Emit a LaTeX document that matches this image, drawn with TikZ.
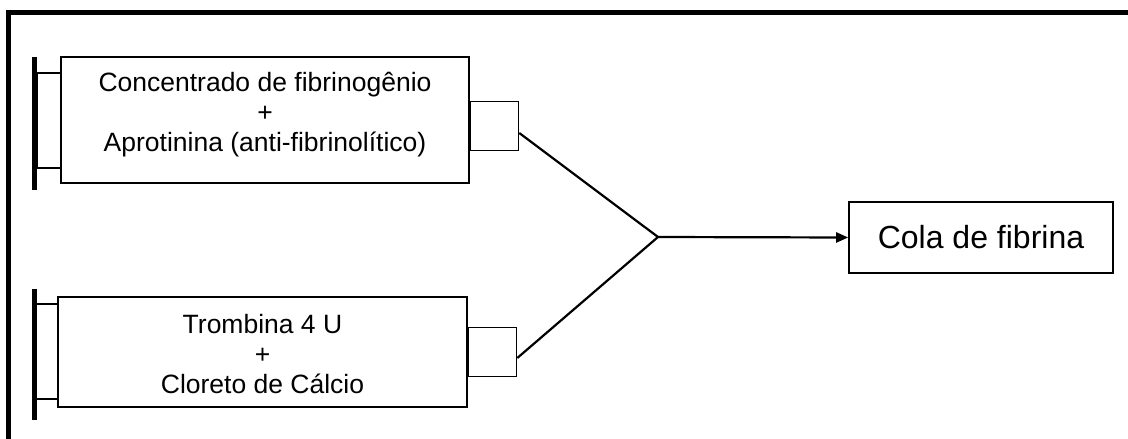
\documentclass[tikz,border=0pt]{standalone}
\usepackage{fontspec}
\setmainfont{Liberation Sans}
\usetikzlibrary{calc,arrows.meta}
\begin{document}
\begin{tikzpicture}[x=1pt,y=-1pt,
  barrel/.style={draw,line width=1.6pt,fill=white,inner sep=0pt},
  label/.style={inner sep=0pt,align=center,font=\fontsize{26.5}{30}\selectfont},
  nozzle/.style={draw,line width=1.6pt,inner sep=0pt,minimum width=48,minimum height=49},
  rod/.style={draw,line width=1.6pt,inner sep=0pt,minimum width=24},
  bar/.style={fill=black,inner sep=0pt,minimum width=5},
  conn/.style={line width=2.2pt},
  result/.style={draw,line width=1.6pt,inner sep=0pt,minimum width=264,minimum height=71,
    font=\fontsize{32}{38}\selectfont}]
\useasboundingbox (0,0) rectangle (1128,439);
% frame
\draw[line width=5pt] (8.5,439) -- (8.5,12.5) -- (1128,12.5);
% top syringe
\node[rod,minimum height=95] (rod1) at (49,120.5) {};
\node[bar,minimum height=133] (bar1) at (34.5,123.5) {};
\node[barrel,minimum width=408,minimum height=126] (b1) at (265,120) {};
\node[label] (t1) at (265,115)
  {Concentrado de fibrinogênio\\+\\Aprotinina (anti-fibrinolítico)};
\node[nozzle] (n1) at (494.5,126) {};
% bottom syringe
\node[rod,minimum height=95] (rod2) at (47.5,351.5) {};
\node[bar,minimum height=131] (bar2) at (34.5,354.5) {};
\node[barrel,minimum width=409,minimum height=110] (b2) at (262.5,352) {};
\node[label] (t2) at (262.5,354)
  {Trombina 4 U\\+\\Cloreto de Cálcio};
\node[nozzle] (n2) at (492.5,352) {};
% result
\node[result] (cola) at (981,237.5) {Cola de fibrina};
\coordinate (j) at (658,237);
\draw[conn] ([yshift=-7]n1.east) -- (j);
\draw[conn] ([yshift=-6]n2.east) -- (j);
\draw[conn,-{Triangle[length=12pt,width=10pt]}] (j) -- (cola.west);
\end{tikzpicture}
\end{document}
